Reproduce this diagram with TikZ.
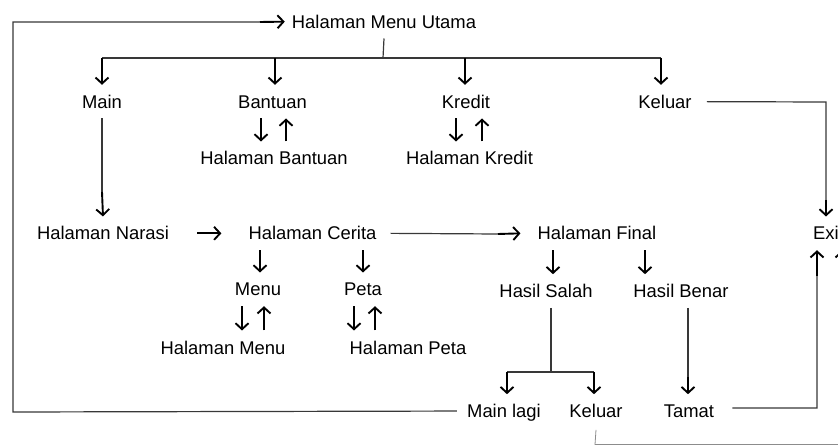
\documentclass[tikz,border=0pt]{standalone}
\usepackage{fontspec}
\setmainfont{Liberation Sans}
\usetikzlibrary{arrows.meta,calc}
\begin{document}
\begin{tikzpicture}[x=1pt,y=-1pt,
  lbl/.style={anchor=base,inner xsep=0pt,inner ysep=10pt,text height=13.3pt,text depth=0pt,
    font=\fontsize{18.4}{22}\selectfont},
  ln/.style={line width=1.2pt,draw=black!78},
  arr/.style={line width=1.9pt,draw=black,-{Straight Barb[length=6pt,width=13pt]}},
  ]
\useasboundingbox (0,0) rectangle (838,446);
\clip (0,0) rectangle (838,446);
% nodes
\node[lbl] (utama) at (384,28.3) {Halaman Menu Utama};
\node[lbl] (main) at (102,108.3) {Main};
\node[lbl] (bantuan) at (272.5,108.3) {Bantuan};
\node[lbl] (kredit) at (466,108.3) {Kredit};
\node[lbl] (keluar) at (665,108.3) {Keluar};
\node[lbl] (hbantuan) at (274,165) {Halaman Bantuan};
\node[lbl] (hkredit) at (469.5,165) {Halaman Kredit};
\node[lbl] (narasi) at (103,240) {Halaman Narasi};
\node[lbl] (cerita) at (312.5,240) {Halaman Cerita};
\node[lbl] (final) at (597,240) {Halaman Final};
\node[lbl,anchor=base west] (exit) at (813,240) {Exit};
\node[lbl] (menu) at (258,296) {Menu};
\node[lbl] (peta) at (363,296) {Peta};
\node[lbl] (hmenu) at (223,354) {Halaman Menu};
\node[lbl] (hpeta) at (408,354) {Halaman Peta};
\node[lbl] (salah) at (546,297.7) {Hasil Salah};
\node[lbl] (benar) at (681,297.7) {Hasil Benar};
\node[lbl] (mainlagi) at (504,417.7) {Main lagi};
\node[lbl] (keluarb) at (596,417.7) {Keluar};
\node[lbl] (tamat) at (689,417.7) {Tamat};
% coordinates
\coordinate (topbr) at (383,58);
\coordinate (loopA) at (13,412);
\coordinate (loopB) at (13,22);
\coordinate (loopC) at (260,22);
\coordinate (exR) at (826,102);
\coordinate (exR2) at (826,200);
\coordinate (narT) at (102,192);
\coordinate (finT) at (498,234);
\coordinate (salB) at (551,372);
\coordinate (benT) at (688,377);
\coordinate (tamR) at (817,408);
\coordinate (tamR2) at (817,276);
\coordinate (kbA) at (595,444.5);
\coordinate (kbB) at (842,444.5);
\coordinate (kbC) at (842,280);
% top branch
\draw[ln] (utama.south) -- (topbr);
\draw[ln,line width=1.5pt] (102,58) -- (661,58);
\draw[arr] (102,58) -- (102,0 |- main.north);
\draw[arr] (275,58) -- (275,0 |- bantuan.north);
\draw[arr] (465,58) -- (465,0 |- kredit.north);
\draw[arr] (661,58) -- (661,0 |- keluar.north);
% bantuan / kredit pairs
\draw[arr] (261,0 |- bantuan.south) -- (261,0 |- hbantuan.north);
\draw[arr] (286,0 |- hbantuan.north) -- (286,0 |- bantuan.south);
\draw[arr] (456,0 |- kredit.south) -- (456,0 |- hkredit.north);
\draw[arr] (482,0 |- hkredit.north) -- (482,0 |- kredit.south);
% keluar -> exit
\draw[ln] ([xshift=15pt]keluar.east) -- (exR) -- (exR2);
\draw[arr] (exR2) -- (826,0 |- exit.north);
% main -> narasi
\draw[ln] (main.south) -- (narT);
\draw[arr] (narT) -- (narasi.north);
% narasi -> cerita
\draw[arr] ([xshift=28pt]narasi.east) -- ([xshift=-27pt]cerita.west);
% cerita -> final
\draw[ln] ([xshift=14pt]cerita.east) -- (finT);
\draw[arr] (finT) -- ([xshift=-17pt]final.west);
% cerita -> menu, peta
\draw[arr] (260,0 |- cerita.south) -- (260,0 |- menu.north);
\draw[arr] (363,0 |- cerita.south) -- (363,0 |- peta.north);
% menu / peta pairs
\draw[arr] (242,0 |- menu.south) -- (242,0 |- hmenu.north);
\draw[arr] (264,0 |- hmenu.north) -- (264,0 |- menu.south);
\draw[arr] (354,0 |- peta.south) -- (354,0 |- hpeta.north);
\draw[arr] (375,0 |- hpeta.north) -- (375,0 |- peta.south);
% final -> hasil
\draw[arr] (553,0 |- final.south) -- (553,0 |- salah.north);
\draw[arr] (645,0 |- final.south) -- (645,0 |- benar.north);
% salah -> main lagi / keluar
\draw[ln] (551,0 |- salah.south) -- (salB);
\draw[ln,line width=1.5pt] (507,372) -- (594,372);
\draw[arr] (507,372) -- (507,0 |- mainlagi.north);
\draw[arr] (594,372) -- (594,0 |- keluarb.north);
% benar -> tamat
\draw[ln] (688,0 |- benar.south) -- (benT);
\draw[arr] (benT) -- (688,0 |- tamat.north);
% tamat -> exit
\draw[ln] ([xshift=18pt,yshift=3pt]tamat.east) -- (tamR) -- (tamR2);
\draw[arr] (tamR2) -- (817,0 |- exit.south);
% main lagi -> utama
\draw[ln] ([xshift=-10pt]mainlagi.west) -- (loopA) -- (loopB) -- (loopC);
\draw[arr] (loopC) -- ([xshift=-7pt]utama.west);
% keluar (bottom) -> exit
\draw[ln,draw=black!45,line width=0.8pt] ([yshift=-2pt]keluarb.south) -- (kbA) -- (kbB) -- (kbC);
\draw[arr] (kbC) -- (842,0 |- exit.south);
\end{tikzpicture}
\end{document}
